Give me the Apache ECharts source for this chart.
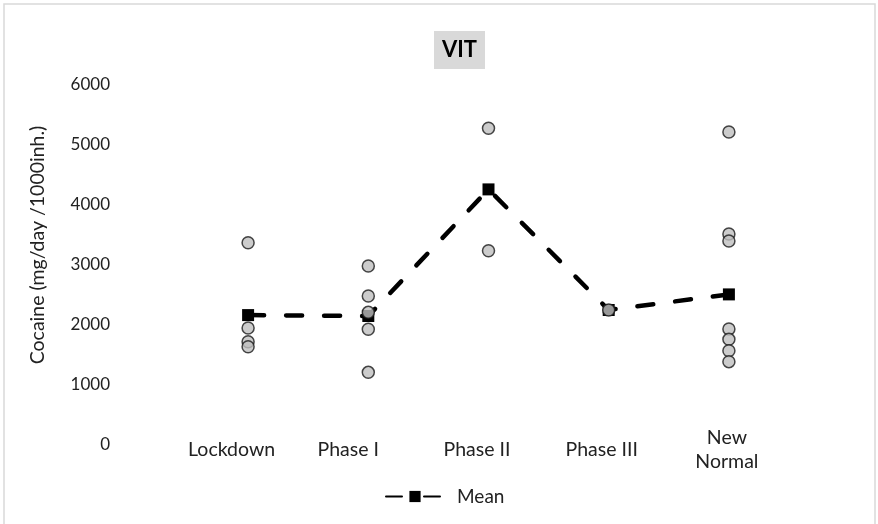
<!DOCTYPE html>
<html>
<head>
<meta charset="utf-8">
<script src="https://cdn.jsdelivr.net/npm/echarts@6/dist/echarts.min.js"></script>
<style>
  html, body { margin: 0; padding: 0; background: #fff; }
  #chart { width: 878px; height: 524px; }
</style>
</head>
<body>
<div id="chart"></div>
<script>
// categories and values
const categories = ['Lockdown', 'Phase I', 'Phase II', 'Phase III', 'New\nNormal']
const yTicks = [0, 1000, 2000, 3000, 4000, 5000, 6000]
const meanValues = [2165, 2150, 4260, 2250, 2510]
const lockdownObs = [3372, 1950, 1722, 1638]
const phase1Obs = [2983, 2483, 2211, 1928, 1211]
const phase2Obs = [5278, 3238]
const phase3Obs = [2250]
const newNormalObs = [5217, 3517, 3400, 1933, 1761, 1572, 1389]

const obsByCategory = [lockdownObs, phase1Obs, phase2Obs, phase3Obs, newNormalObs]
const scatterData = []
obsByCategory.forEach((vals, i) => {
  vals.forEach(v => scatterData.push([categories[i], v]))
})

// the labels sit a bit left of their points in the original
const labelPadding = [[0, 33, 0, 0], [8, 40, 0, 0], [0, 23, 0, 0], [0, 14, 0, 0], [0, 4, 0, 0]]

const font = 'Lato, "Liberation Sans", sans-serif'
const labelStyle = {
  verticalAlign: 'middle',
  fontFamily: font,
  fontSize: 19.5,
  lineHeight: 24,
  color: '#222'
}
const mychart = echarts.init(document.getElementById('chart'))
mychart.setOption({
  animation: false,
  textStyle: { fontFamily: font },
  graphic: [
    {
      type: 'rect',
      shape: { x: 4, y: 4, width: 871, height: 530 },
      style: { fill: 'none', stroke: '#d9d9d9', lineWidth: 1.5 },
      silent: true
    }
  ],
  title: {
    text: 'VIT',
    left: 434,
    top: 31,
    padding: [8, 8],
    backgroundColor: '#d9d9d9',
    textStyle: { fontFamily: font, fontSize: 22, fontWeight: 'bold', color: '#000', lineHeight: 22 }
  },
  legend: {
    data: ['Mean'],
    left: 380,
    top: 482,
    itemWidth: 58,
    itemHeight: 14,
    textStyle: { fontFamily: font, fontSize: 19, color: '#222', padding: [0, 0, 0, 8] }
  },
  grid: {
    left: 188,
    right: 89,
    top: 85,
    bottom: 79
  },
  xAxis: {
    type: 'category',
    data: categories.map((c, i) => ({
      value: c,
      textStyle: Object.assign({}, labelStyle, { padding: labelPadding[i] })
    })),
    boundaryGap: true,
    axisLine: { show: false },
    axisTick: { show: false },
    axisLabel: Object.assign({ margin: 5, interval: 0 }, labelStyle)
  },
  yAxis: {
    type: 'value',
    min: yTicks[0],
    max: yTicks[yTicks.length - 1],
    interval: 1000,
    splitLine: { show: false },
    axisLine: { show: false },
    axisTick: { show: false },
    axisLabel: { margin: 78, fontFamily: font, fontSize: 17, color: '#222', formatter: v => String(v) },
    name: 'Cocaine (mg/day /1000inh.)',
    nameLocation: 'middle',
    nameGap: 140,
    nameRotate: 90,
    nameTextStyle: { fontFamily: font, fontSize: 19.5, color: '#222', padding: [0, 0, 0, 40] }
  },
  series: [
    {
      name: 'Mean',
      type: 'line',
      data: meanValues,
      z: 2,
      symbol: 'rect',
      symbolSize: 12,
      itemStyle: { color: '#000' },
      lineStyle: { color: '#000', width: 4.5, type: [16, 22], cap: 'round' }
    },
    {
      name: 'obs',
      type: 'scatter',
      data: scatterData,
      z: 3,
      symbolSize: 12,
      itemStyle: { color: '#bfbfbf', borderColor: '#1a1a1a', borderWidth: 1.5 }
    }
  ]
})
</script>
</body>
</html>
